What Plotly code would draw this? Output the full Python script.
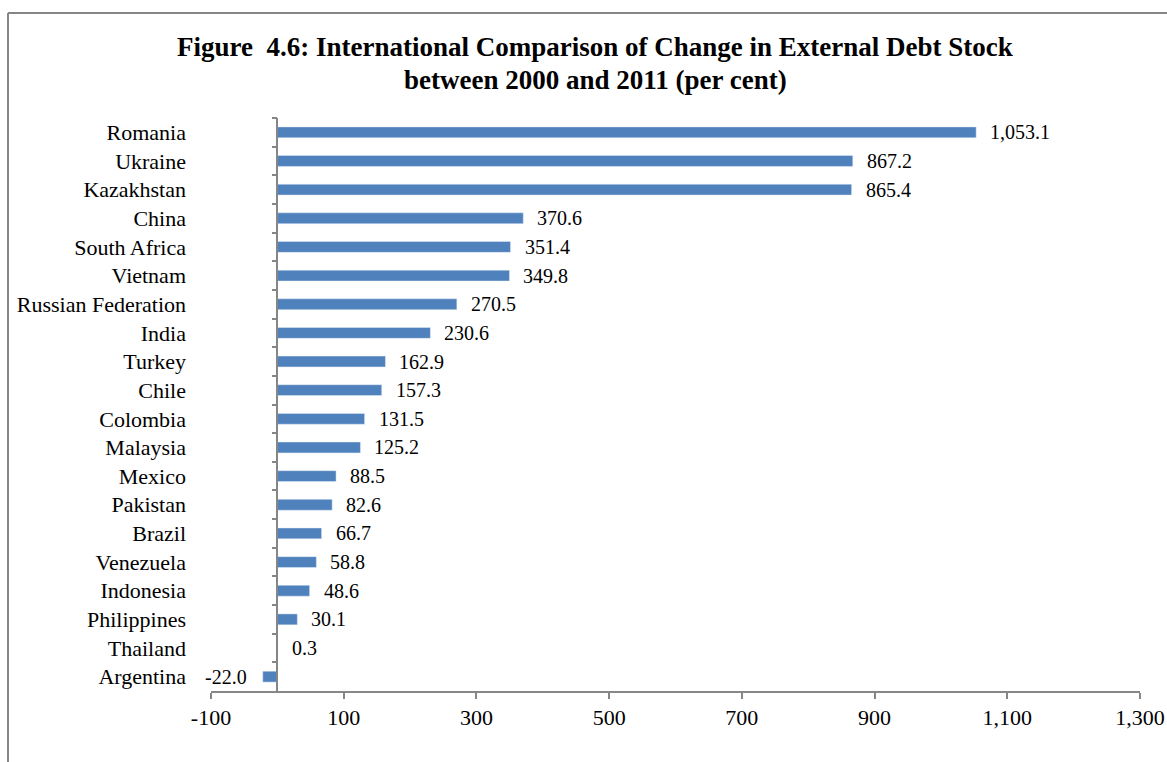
import plotly.graph_objects as go

# Change in external debt stock, 2000-2011 (per cent)
countries = [
    "Romania", "Ukraine", "Kazakhstan", "China", "South Africa", "Vietnam",
    "Russian Federation", "India", "Turkey", "Chile", "Colombia", "Malaysia",
    "Mexico", "Pakistan", "Brazil", "Venezuela", "Indonesia", "Philippines",
    "Thailand", "Argentina",
]
change_pct = [
    1053.1, 867.2, 865.4, 370.6, 351.4, 349.8,
    270.5, 230.6, 162.9, 157.3, 131.5, 125.2,
    88.5, 82.6, 66.7, 58.8, 48.6, 30.1,
    0.3, -22.0,
]
x_ticks = [-100, 100, 300, 500, 700, 900, 1100, 1300]
x_tick_text = [f"{t:,d}" for t in x_ticks]

BAR = "#4F81BD"
AXIS = "#868686"
FONT = "Liberation Serif"
x_range = [x_ticks[0], x_ticks[-1]]
n = len(countries)

W, H = 1167, 762
M_L, M_R, M_T, M_B = 211, 27, 118, 71
plot_w, plot_h = W - M_L - M_R, H - M_T - M_B


def px_x(px):
    """Page pixel column -> paper x fraction."""
    return (px - M_L) / plot_w


def px_y(px):
    """Page pixel row -> paper y fraction."""
    return 1 + (M_T - px) / plot_h


fig = go.Figure()
fig.add_trace(go.Bar(
    x=change_pct, y=countries, orientation="h",
    marker=dict(color=BAR, line=dict(width=0)),
    hoverinfo="x+y",
))
# invisible copy carrying the zero-line axis with boundary ticks
fig.add_trace(go.Bar(
    x=change_pct, y=countries, orientation="h", yaxis="y2",
    marker=dict(color="rgba(0,0,0,0)"), hoverinfo="skip", showlegend=False,
))

annotations = []
for c, v in zip(countries, change_pct):
    annotations.append(dict(
        x=v, y=c, xref="x", yref="y",
        text=f"{v:,.1f}", showarrow=False,
        xanchor="left" if v >= 0 else "right",
        xshift=12 if v >= 0 else -14,
        font=dict(family=FONT, size=20, color="black"),
    ))

# chart title, two centred bold lines
title_lines = [
    "Figure  4.6: International Comparison of Change in External Debt Stock",
    "between 2000 and 2011 (per cent)",
]
for i, line in enumerate(title_lines):
    annotations.append(dict(
        x=px_x(595), y=px_y(47 + 33 * i),
        xref="paper", yref="paper", xanchor="center", yanchor="middle",
        text=f"<b>{line}</b>", showarrow=False,
        font=dict(family=FONT, size=27, color="black"),
    ))

zero_pos = (0 - x_range[0]) / (x_range[1] - x_range[0])

# chart-area frame: left and top edges (the others fall outside the page)
frame = [
    dict(type="line", xref="paper", yref="paper",
         x0=px_x(8), x1=px_x(8), y0=px_y(H), y1=px_y(13),
         line=dict(color=AXIS, width=2)),
    dict(type="line", xref="paper", yref="paper",
         x0=px_x(8), x1=px_x(W), y0=px_y(13), y1=px_y(13),
         line=dict(color=AXIS, width=2)),
]

fig.update_layout(
    width=W, height=H,
    margin=dict(l=M_L, r=M_R, t=M_T, b=M_B, autoexpand=False),
    paper_bgcolor="white", plot_bgcolor="white",
    bargap=0.62, barmode="overlay", showlegend=False,
    font=dict(family=FONT, size=20, color="black"),
    xaxis=dict(
        range=x_range, tickvals=x_ticks, ticktext=x_tick_text,
        showgrid=False, zeroline=False, automargin=False,
        showline=True, linecolor=AXIS, linewidth=1.5,
        ticks="outside", ticklen=6, tickcolor=AXIS, tickwidth=1.5,
        tickfont=dict(family=FONT, size=22, color="black"),
    ),
    yaxis=dict(
        categoryorder="array", categoryarray=countries,
        range=[n - 0.5, -0.5], automargin=False,
        showgrid=False, zeroline=False, showline=False, ticks="",
        ticklabelstandoff=24,
        tickfont=dict(family=FONT, size=22, color="black"),
    ),
    yaxis2=dict(
        overlaying="y", anchor="free", position=zero_pos, side="left",
        categoryorder="array", categoryarray=countries,
        range=[n - 0.5, -0.5], automargin=False,
        showgrid=False, zeroline=False, showticklabels=False,
        showline=True, linecolor=AXIS, linewidth=1.5,
        ticks="outside", ticklen=5, tickcolor=AXIS, tickwidth=1.5,
        tickson="boundaries",
    ),
    annotations=annotations,
    shapes=frame,
)

fig.write_html("out.html")
